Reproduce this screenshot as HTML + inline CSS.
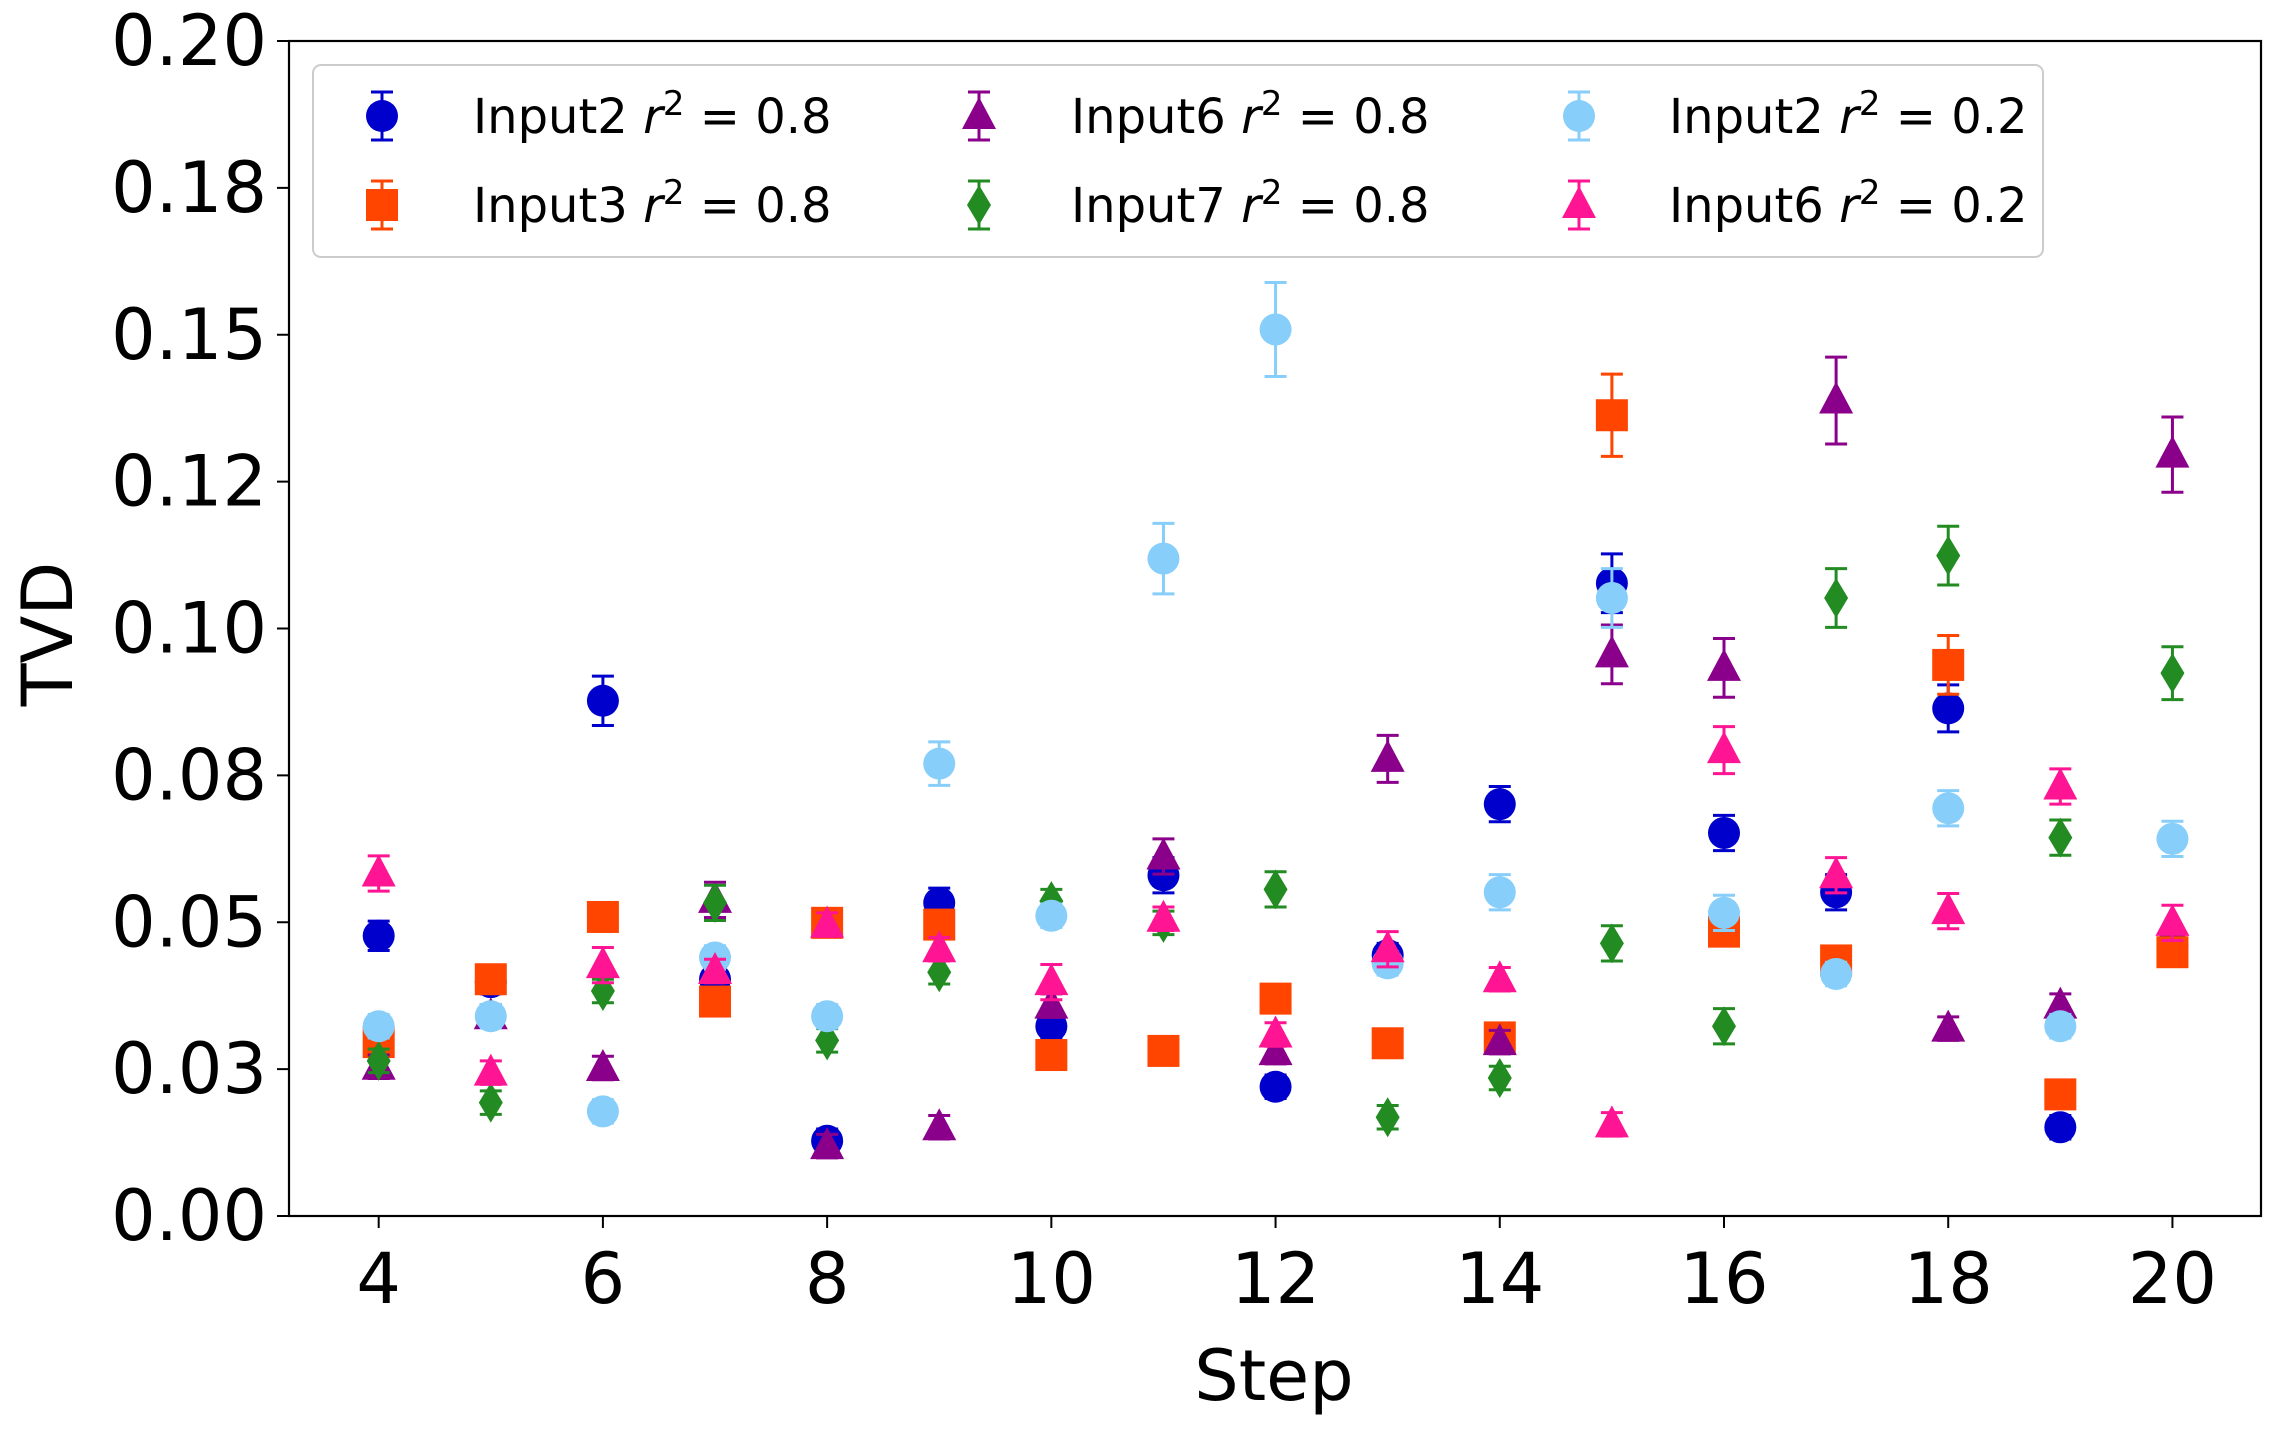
<!DOCTYPE html>
<html><head><meta charset="utf-8"><style>
html,body{margin:0;padding:0;background:#fff}
svg{display:block}
text{font-family:"DejaVu Sans","Liberation Sans",sans-serif;fill:#000}
</style></head><body>
<svg id="chart" width="2275" height="1431" viewBox="0 0 2275 1431" xmlns="http://www.w3.org/2000/svg"></svg>
<script>
const steps=[4,5,6,7,8,9,10,11,12,13,14,15,16,17,18,19,20];
const in2r08=[0.0477,0.0398,0.0877,0.0403,0.0128,0.0533,0.0323,0.058,0.022,0.0444,0.0701,0.1077,0.0652,0.0551,0.0864,0.0151,0.046];
const in2r08err=[0.0025,0.002,0.0042,0.002,0.002,0.0025,0.002,0.003,0.002,0.002,0.003,0.005,0.003,0.003,0.004,0.002,0.002];
const in3r08=[0.0296,0.0403,0.0509,0.0365,0.0499,0.0496,0.0274,0.0281,0.037,0.0294,0.0304,0.1363,0.0484,0.0435,0.0938,0.0207,0.0449];
const in3r08err=[0.002,0.002,0.002,0.002,0.002,0.002,0.002,0.002,0.002,0.002,0.002,0.007,0.002,0.002,0.005,0.002,0.002];
const in6r08=[0.0254,0.034,0.0252,0.0538,0.0119,0.0151,0.0358,0.0612,0.0279,0.0778,0.0296,0.0956,0.0933,0.1388,0.0319,0.0358,0.1296];
const in6r08err=[0.002,0.002,0.002,0.003,0.002,0.002,0.002,0.003,0.002,0.004,0.002,0.005,0.005,0.0074,0.002,0.002,0.0064];
const in7r08=[0.0264,0.0193,0.0383,0.0533,0.0299,0.0415,0.0536,0.0499,0.0556,0.0168,0.0235,0.0464,0.0323,0.1052,0.1124,0.0644,0.0924];
const in7r08err=[0.002,0.002,0.002,0.003,0.002,0.002,0.002,0.002,0.003,0.002,0.002,0.003,0.003,0.005,0.005,0.003,0.0045];
const in2r02=[0.0323,0.034,0.0178,0.044,0.034,0.077,0.0511,0.1119,0.1509,0.043,0.0551,0.1052,0.0516,0.0412,0.0694,0.0323,0.0642];
const in2r02err=[0.002,0.002,0.002,0.002,0.002,0.0037,0.002,0.006,0.008,0.002,0.003,0.005,0.003,0.002,0.003,0.002,0.003];
const in6r02=[0.0583,0.0244,0.0427,0.0417,0.0496,0.0454,0.0398,0.0506,0.0309,0.0454,0.0403,0.0156,0.0793,0.058,0.0519,0.0731,0.0499];
const in6r02err=[0.003,0.002,0.003,0.002,0.002,0.002,0.003,0.002,0.002,0.003,0.002,0.002,0.004,0.003,0.003,0.003,0.003];
const yTicks=[0,0.025,0.05,0.075,0.1,0.125,0.15,0.175,0.2];
const yTickLabels=["0.00","0.03","0.05","0.08","0.10","0.12","0.15","0.18","0.20"];
const xTicks=[4,6,8,10,12,14,16,18,20];

const L=289,R=2261,T=41,B=1216;
const xmin=3.2,xmax=20.79,ymin=0,ymax=0.2;
const X=v=>L+(v-xmin)/(xmax-xmin)*(R-L);
const Y=v=>B-(v-ymin)/(ymax-ymin)*(B-T);
const NS="http://www.w3.org/2000/svg";
const svg=document.getElementById('chart');
function mk(tag,attrs,parent){const e=document.createElementNS(NS,tag);for(const k in attrs)e.setAttribute(k,attrs[k]);(parent||svg).appendChild(e);return e;}

const series=[
 {vals:in2r08,err:in2r08err,color:"#0000cd",shape:"circle",label:"Input2",r:"0.8",name:"input2-r08"},
 {vals:in3r08,err:in3r08err,color:"#ff4500",shape:"square",label:"Input3",r:"0.8",name:"input3-r08"},
 {vals:in6r08,err:in6r08err,color:"#8b008b",shape:"triangle",label:"Input6",r:"0.8",name:"input6-r08"},
 {vals:in7r08,err:in7r08err,color:"#228b22",shape:"diamond",label:"Input7",r:"0.8",name:"input7-r08"},
 {vals:in2r02,err:in2r02err,color:"#87cefa",shape:"circle",label:"Input2",r:"0.2",name:"input2-r02"},
 {vals:in6r02,err:in6r02err,color:"#ff1493",shape:"triangle",label:"Input6",r:"0.2",name:"input6-r02"}
];
function marker(shape,cx,cy,color,g){
 if(shape==="circle")return mk('circle',{cx,cy,r:16,fill:color},g);
 if(shape==="square")return mk('rect',{x:cx-16,y:cy-16,width:32,height:32,fill:color},g);
 if(shape==="triangle")return mk('polygon',{points:`${cx},${cy-19} ${cx+17},${cy+13} ${cx-17},${cy+13}`,fill:color},g);
 return mk('polygon',{points:`${cx},${cy-20} ${cx+12},${cy} ${cx},${cy+20} ${cx-12},${cy}`,fill:color},g);
}
const frame=mk('rect',{x:L,y:T,width:R-L,height:B-T,fill:"none",stroke:"#000","stroke-width":2.2});


yTicks.forEach((t,i)=>{
 const y=Y(t);
 const tl=mk('line',{x1:L-12,x2:L,y1:y,y2:y,stroke:"#000","stroke-width":2});
 
 
 const tx=mk('text',{x:L-22,y:y+24,"text-anchor":"end","font-size":70});
 tx.textContent=yTickLabels[i];
 
 
});
xTicks.forEach(t=>{
 const x=X(t);
 const tl=mk('line',{x1:x,x2:x,y1:B,y2:B+12,stroke:"#000","stroke-width":2});
 
 
 const tx=mk('text',{x:x,y:B+87,"text-anchor":"middle","font-size":70});
 tx.textContent=t;
 
 
});
const xl=mk('text',{x:1274,y:1400,"text-anchor":"middle","font-size":70});
xl.textContent="Step";


const yl=mk('text',{x:0,y:0,"text-anchor":"middle","font-size":70,transform:"translate(72,634) rotate(-90)"});
yl.textContent="TVD";


series.forEach(s=>{
 const g=mk('g',{});
 
 
 steps.forEach((st,i)=>{
  const cx=X(st),cy=Y(s.vals[i]),y1=Y(s.vals[i]+s.err[i]),y2=Y(s.vals[i]-s.err[i]);
  mk('line',{x1:cx,x2:cx,y1:y1,y2:y2,stroke:s.color,"stroke-width":3},g);
  mk('line',{x1:cx-11,x2:cx+11,y1:y1,y2:y1,stroke:s.color,"stroke-width":3},g);
  mk('line',{x1:cx-11,x2:cx+11,y1:y2,y2:y2,stroke:s.color,"stroke-width":3},g);
  const m=marker(s.shape,cx,cy,s.color,g);
  
  
 });
});
const lg=mk('g',{});


mk('rect',{x:313,y:65,width:1730,height:192,rx:8,fill:"#fff","fill-opacity":0.8,stroke:"#ccc","stroke-width":2},lg);
const colM=[382,979,1579],colT=[473,1071,1669],rowY=[116,205];
series.forEach((s,i)=>{
 const c=Math.floor(i/2),r=i%2;
 const e=mk('g',{},lg);
 
 
 const cx=colM[c],cy=rowY[r];
 mk('line',{x1:cx,x2:cx,y1:cy-24,y2:cy+24,stroke:s.color,"stroke-width":3},e);
 mk('line',{x1:cx-11,x2:cx+11,y1:cy-24,y2:cy-24,stroke:s.color,"stroke-width":3},e);
 mk('line',{x1:cx-11,x2:cx+11,y1:cy+24,y2:cy+24,stroke:s.color,"stroke-width":3},e);
 marker(s.shape,cx,cy,s.color,e);
 const t=mk('text',{x:colT[c],y:cy+17,"font-size":48},e);
 t.innerHTML=`${s.label} <tspan font-style="italic">r</tspan><tspan dy="-18" font-size="34">2</tspan><tspan dy="18"> = ${s.r}</tspan>`;
});
</script>
</body></html>
